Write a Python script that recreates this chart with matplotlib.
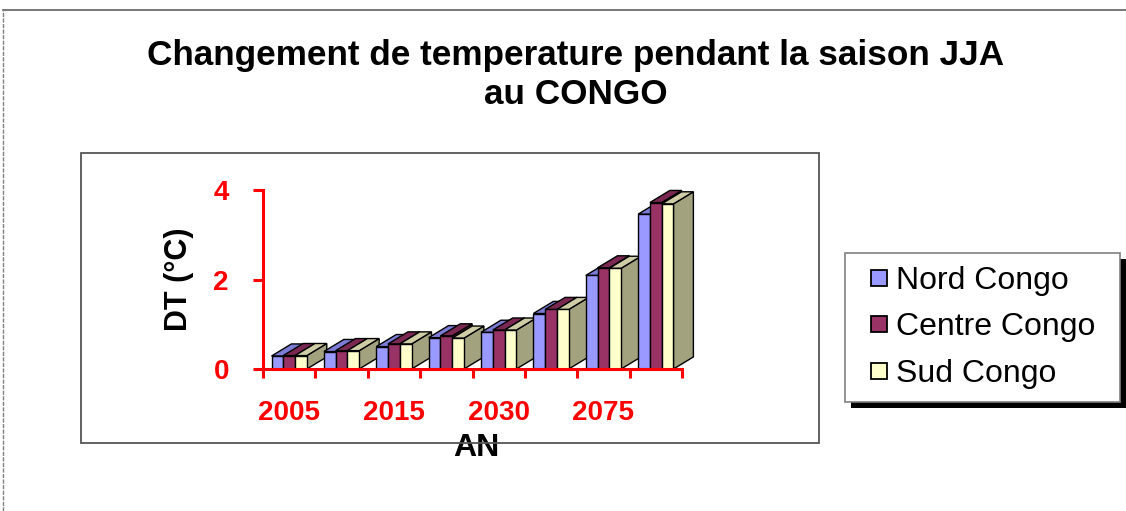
import numpy as np
import matplotlib
matplotlib.use('Agg')
import matplotlib.pyplot as plt
from matplotlib.patches import Polygon, Rectangle
from matplotlib.lines import Line2D

plt.rcParams['font.family'] = ['Liberation Sans', 'DejaVu Sans']

# DT (degC) per period, JJA season
nord = [0.29, 0.39, 0.50, 0.70, 0.82, 1.24, 2.09, 3.46]
centre = [0.30, 0.41, 0.56, 0.74, 0.87, 1.33, 2.26, 3.72]
sud = [0.30, 0.41, 0.56, 0.69, 0.87, 1.33, 2.25, 3.69]
series_names = ['Nord Congo', 'Centre Congo', 'Sud Congo']
tick_years = ['2005', '2015', '2030', '2075']
yticks = [0, 2, 4]

# front / top / side colours of each series
faceColors = [('#9999ff', '#7c7cd6', '#6262a8'),
              ('#993366', '#7a2852', '#5e1f40'),
              ('#ffffcc', '#cfcda6', '#a3a27f')]

W, H = 1126, 511
fig = plt.figure(figsize=(W/100, H/100), dpi=100)

# outer frame (top solid, left dashed)
fig.add_artist(Line2D([3/W, 1], [1-10/H, 1-10/H], transform=fig.transFigure, color='#606060', lw=1.2))
fig.add_artist(Line2D([3/W, 3/W], [0, 1-10/H], transform=fig.transFigure, color='#808080', lw=1.0, ls=(0, (3, 1))))

# plot area box
fig.add_artist(Rectangle((81/W, 1-443/H), (819-81)/W, (443-153)/H, transform=fig.transFigure,
                         fill=False, edgecolor='#555555', lw=1.3))

fig.suptitle('Changement de temperature pendant la saison JJA\nau CONGO', x=576/W, y=1-75/H,
             va='center', fontsize=25.3, fontweight='bold', linespacing=1.2)

ax = fig.add_axes([263/W, 1-369/H, (682-263)/W, (369-190)/H])
ax.patch.set_visible(False)
ax.set_xlim(0, len(nord))
ax.set_ylim(0, 4)

barW = 0.225          # front face width, in group units
offset = 0.1625       # gap from group boundary to first bar
dx, dy = 0.38, 0.27   # depth of the 3d boxes (x in groups, y in DT units)

allSeries = [nord, centre, sud]
for g in range(len(nord)):
    for s, values in enumerate(allSeries):
        h = values[g]
        x0 = g + offset + s*barW
        x1 = x0 + barW
        front, top, side = faceColors[s]
        ax.add_patch(Polygon([(x1, 0), (x1+dx, dy), (x1+dx, h+dy), (x1, h)],
                             closed=True, facecolor=side, edgecolor='k', lw=1, clip_on=False))
        ax.add_patch(Polygon([(x0, h), (x1, h), (x1+dx, h+dy), (x0+dx, h+dy)],
                             closed=True, facecolor=top, edgecolor='k', lw=1, clip_on=False))
        ax.add_patch(Rectangle((x0, 0), barW, h, facecolor=front, edgecolor='k', lw=1, clip_on=False))

for side in ['top', 'right']:
    ax.spines[side].set_visible(False)
for side in ['left', 'bottom']:
    ax.spines[side].set_color('red')
    ax.spines[side].set_linewidth(2.2)

ax.set_yticks(yticks)
ax.set_yticklabels([str(t) for t in yticks])
ax.tick_params(axis='y', colors='red', length=7.5, width=2.2, pad=17, labelsize=20)
for lab in ax.get_yticklabels():
    lab.set_fontweight('bold')

ax.set_xticks(np.arange(len(nord)+1))
ax.set_xticklabels([])
ax.tick_params(axis='x', colors='red', length=6.5, width=2.2)
ax.set_xticks(np.arange(0, len(nord), 2) + 0.5, minor=True)
ax.set_xticklabels(tick_years, minor=True, color='red', fontsize=20, fontweight='bold')
ax.tick_params(axis='x', which='minor', length=0, pad=22)

ax.set_ylabel('DT (°C)', fontsize=22, fontweight='bold', labelpad=14)
ax.set_xlabel('AN', fontsize=23, fontweight='bold', labelpad=5)
ax.xaxis.label.set_x(0.51)

handles = [Line2D([], [], ls='none', marker='s', markersize=12, markerfacecolor=faceColors[i][0],
                  markeredgecolor='k', markeredgewidth=1.3) for i in range(3)]
leg = fig.legend(handles, series_names, loc='upper left', mode='expand',
                 bbox_to_anchor=(845/W, 1-253/H-0.01, 275/W, 0.01),
                 bbox_transform=fig.transFigure, fontsize=23, frameon=True, fancybox=False,
                 edgecolor='#808080', framealpha=1, borderpad=0.4, labelspacing=0.52,
                 handlelength=1.3, handletextpad=-0.1, borderaxespad=0, numpoints=1)
leg.get_frame().set_linewidth(1.2)
leg.set_zorder(5)

# black drop shadow under the legend box
fig.canvas.draw()
bb = leg.get_window_extent()
fig.add_artist(Rectangle(((bb.x0+6)/W, (bb.y0-6)/H), bb.width/W, bb.height/H,
                         transform=fig.transFigure, facecolor='black', edgecolor='none', zorder=4))

fig.savefig('out.png', dpi=100)
